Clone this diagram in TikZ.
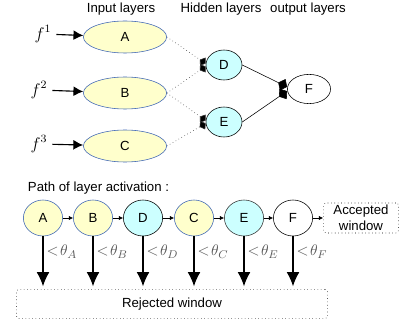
\documentclass[tikz,border=0pt]{standalone}
\usepackage{amsmath}
\usepackage{fontspec}
\setmainfont{Liberation Sans}
\usepackage{tikz}
\usetikzlibrary{arrows.meta}
\usetikzlibrary{shapes}
\usetikzlibrary{positioning}

\definecolor{inyellow}{RGB}{255,255,204}
\definecolor{hidcyan}{RGB}{204,255,255}
\definecolor{edgeblue}{RGB}{60,100,180}

\tikzset{
	inlayer/.style={ellipse, draw=edgeblue, fill=inyellow, inner sep=0pt, minimum width=2.08cm, minimum height=0.8cm},
	hidlayer/.style={ellipse, draw=black, fill=hidcyan, inner sep=0pt, minimum width=0.9cm, minimum height=0.75cm},
	outlayer/.style={ellipse, draw=black, fill=white, inner sep=0pt, minimum width=1.08cm, minimum height=0.73cm},
	pathnode/.style={ellipse, draw, inner sep=0pt, minimum width=0.98cm, minimum height=0.9cm},
	window/.style={draw, dotted, rounded corners=2pt, inner sep=0pt, align=center},
	feed/.style={-{Latex[length=7pt,width=7pt]}, thick},
	link/.style={-{Diamond[length=5pt,width=7pt,fill=black]}, dotted, black!80},
	outlink/.style={-{Diamond[length=7pt,width=9pt,fill=black]}},
	step arrow/.style={-{Latex[length=3pt,width=3pt]}},
	reject/.style={-{Latex[length=10pt,width=9pt]}, thick},
	thr/.style={anchor=west, text=black!65, font=\fontsize{11}{12}\selectfont}
}

\begin{document}
\begin{tikzpicture}[x=0.025cm, y=-0.025cm, font=\fontsize{9.4}{11}\selectfont]
	\useasboundingbox (0,0) rectangle (400,327);
	
	% network
	\node (tIn) at (121,9) {Input layers};
	\node (tHid) at (221,9) {Hidden layers};
	\node (tOut) at (308,9) {output layers};
	
	\node[inlayer] (A) at (125,37) {A};
	\node[inlayer] (B) at (125,93) {B};
	\node[inlayer] (C) at (125,146) {C};
	\node[hidlayer] (D) at (224,65) {D};
	\node[hidlayer] (E) at (224,122) {E};
	\node[outlayer] (F) at (309,89) {F};
	
	\node (f1) at (43,34) {\fontsize{12}{14}\selectfont$f^1$};
	\node (f2) at (39,90) {\fontsize{12}{14}\selectfont$f^2$};
	\node (f3) at (39,144) {\fontsize{12}{14}\selectfont$f^3$};
	
	\draw[feed] (f1) -- (A);
	\draw[feed] (f2) -- (B);
	\draw[feed] (f3) -- (C);
	
	\draw[link] (A.east) -- ([yshift=1pt]D.west);
	\draw[link] (B.east) -- ([yshift=-1pt]D.west);
	\draw[link] (B.east) -- ([yshift=1pt]E.west);
	\draw[link] (C.east) -- ([yshift=-1pt]E.west);
	\draw[outlink] (D.east) -- ([yshift=1.5pt]F.west);
	\draw[outlink] (E.east) -- ([yshift=-1.5pt]F.west);
	
	% path of activation
	\node[anchor=west] (tPath) at (23,188) {Path of layer activation :};
	
	\node[pathnode, draw=edgeblue, fill=inyellow] (pA) at (43,218) {A};
	\node[pathnode, draw=edgeblue, fill=inyellow] (pB) at (93,218) {B};
	\node[pathnode, draw=black, fill=hidcyan] (pD) at (143,218) {D};
	\node[pathnode, draw=edgeblue, fill=inyellow] (pC) at (194,218) {C};
	\node[pathnode, draw=black!80, fill=hidcyan] (pE) at (244,218) {E};
	\node[pathnode, draw=black, fill=white] (pF) at (293,218) {F};
	\node[window, minimum width=1.88cm, minimum height=0.75cm] (acc) at (361,218) {Accepted\\window};
	\node[window, minimum width=7.78cm, minimum height=0.73cm] (rej) at (172,304) {Rejected window};
	
	\draw[step arrow] (pA) -- (pB);
	\draw[step arrow] (pB) -- (pD);
	\draw[step arrow] (pD) -- (pC);
	\draw[step arrow] (pC) -- (pE);
	\draw[step arrow] (pE) -- (pF);
	\draw[step arrow] (pF) -- (acc);
	
	\foreach \n/\s in {pA/A, pB/B, pD/D, pC/C, pE/E, pF/F} {
		\draw[reject] (\n.south) -- ([yshift=2pt]\n.south |- rej.north);
		\node[thr] at ([xshift=-1pt,yshift=-11pt]\n.south) {$<\!\theta_{\s}$};
	}
\end{tikzpicture}
\end{document}
